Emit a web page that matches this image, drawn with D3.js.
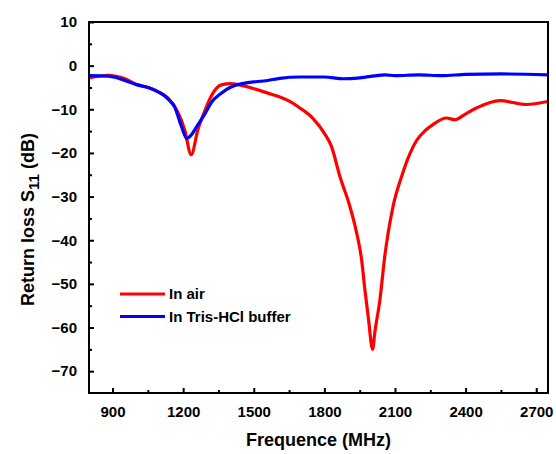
<!DOCTYPE html>
<html>
<head>
<meta charset="utf-8">
<script src="https://cdn.jsdelivr.net/npm/d3@7"></script>
<style>
  body { margin: 0; background: #fff; }
  text { font-family: "Liberation Sans", Arial, sans-serif; font-weight: bold; fill: #000; }
</style>
</head>
<body>
<svg id="chart" width="556" height="454"></svg>
<script>
// frequency (MHz) and S11 (dB)
var airFreq = [800, 881, 953, 1008, 1051, 1093, 1135, 1178, 1206, 1234, 1263, 1291, 1319, 1362, 1403, 1462, 1560, 1611, 1653, 1696, 1750, 1800, 1830, 1866, 1908, 1937, 1958, 1972, 1986, 2005, 2014, 2036, 2057, 2071, 2092, 2128, 2163, 2191, 2230, 2261, 2319, 2354, 2396, 2446, 2545, 2658, 2749];
var airS11  = [-2.8, -2.2, -3.0, -4.5, -5.0, -6.0, -7.4, -10.7, -14.6, -20.4, -14.6, -10.5, -7.0, -4.4, -4.1, -4.7, -6.3, -7.2, -8.2, -9.7, -12, -15.5, -18.5, -25.4, -32.2, -38.3, -44.4, -51.3, -57.4, -65, -61.2, -53.6, -43.5, -38.3, -32.2, -25.4, -20.2, -17.2, -14.8, -13.5, -12, -12.4, -11.2, -9.7, -8, -8.9, -8.2];

var trisFreq = [800, 881, 1008, 1051, 1135, 1164, 1192, 1216, 1234, 1263, 1291, 1319, 1362, 1403, 1462, 1560, 1611, 1696, 1800, 1880, 1950, 2057, 2100, 2200, 2300, 2400, 2550, 2749];
var trisS11  = [-2.3, -2.4, -4.4, -5.0, -7.6, -9.5, -13.8, -16.7, -15.9, -13.5, -11.2, -8.5, -6.3, -4.9, -4.0, -3.4, -2.9, -2.6, -2.6, -3.0, -2.8, -2.1, -2.3, -2.1, -2.3, -2.0, -1.9, -2.1];

var seriesNames = ["In air", "In Tris-HCl buffer"];
var seriesColors = ["#ff0000", "#0000ff"];

var xTicks = [900, 1200, 1500, 1800, 2100, 2400, 2700];
var xMinor = [1050, 1350, 1650, 1950, 2250, 2550];
var yTicks = [10, 0, -10, -20, -30, -40, -50, -60, -70];
var yMinor = [5, -5, -15, -25, -35, -45, -55, -65];

var svg = d3.select("#chart"),
    margin = {top: 22, right: 8, bottom: 61, left: 89},
    width = +svg.attr("width") - margin.left - margin.right,
    height = +svg.attr("height") - margin.top - margin.bottom,
    g = svg.append("g").attr("transform", "translate(" + margin.left + "," + margin.top + ")");

var x = d3.scaleLinear().domain([800, 2750]).range([0, width]);
var y = d3.scaleLinear().domain([-75, 10]).range([height, 0]);

var series = [
  {name: seriesNames[0], color: seriesColors[0], values: airFreq.map(function(f, i) { return {f: f, v: airS11[i]}; })},
  {name: seriesNames[1], color: seriesColors[1], values: trisFreq.map(function(f, i) { return {f: f, v: trisS11[i]}; })}
];

var line = d3.line()
    .curve(d3.curveMonotoneX)
    .x(function(d) { return x(d.f); })
    .y(function(d) { return y(d.v); });

// clip so lines stay in the frame
g.append("clipPath").attr("id", "clip")
  .append("rect").attr("width", width).attr("height", height);

series.forEach(function(s) {
  g.append("path")
    .datum(s.values)
    .attr("clip-path", "url(#clip)")
    .attr("fill", "none")
    .attr("stroke", s.color)
    .attr("stroke-width", 3.2)
    .attr("stroke-linejoin", "round")
    .attr("d", line);
});

// frame
g.append("rect")
  .attr("width", width).attr("height", height)
  .attr("fill", "none").attr("stroke", "#000").attr("stroke-width", 2);

// x axis, ticks pointing inward
var xAxis = g.append("g")
  .attr("transform", "translate(0," + height + ")")
  .call(d3.axisBottom(x).tickValues(xTicks).tickSize(-5).tickPadding(13).tickFormat(d3.format("d")));
xAxis.select(".domain").remove();
xAxis.selectAll(".tick line").attr("stroke-width", 2);
xAxis.selectAll("text").style("font-size", "15px");

var xAxisMinor = g.append("g")
  .attr("transform", "translate(0," + height + ")")
  .call(d3.axisBottom(x).tickValues(xMinor).tickSize(-3).tickFormat(""));
xAxisMinor.select(".domain").remove();
xAxisMinor.selectAll(".tick line").attr("stroke-width", 2);

// y axis
var yAxis = g.append("g")
  .call(d3.axisLeft(y).tickValues(yTicks).tickSize(-5).tickPadding(12));
yAxis.select(".domain").remove();
yAxis.selectAll(".tick line").attr("stroke-width", 2);
yAxis.selectAll("text").style("font-size", "15px");

var yAxisMinor = g.append("g")
  .call(d3.axisLeft(y).tickValues(yMinor).tickSize(-3).tickFormat(""));
yAxisMinor.select(".domain").remove();
yAxisMinor.selectAll(".tick line").attr("stroke-width", 2);

// axis titles
svg.append("text")
  .attr("x", margin.left + width / 2)
  .attr("y", 446)
  .attr("text-anchor", "middle")
  .style("font-size", "18px")
  .text("Frequence (MHz)");

var yTitle = svg.append("text")
  .attr("transform", "translate(34,306) rotate(-90)")
  .attr("text-anchor", "start")
  .style("font-size", "18px");
yTitle.append("tspan").text("Return loss S");
yTitle.append("tspan").attr("dy", 5).style("font-size", "15px").text("11");
yTitle.append("tspan").attr("dy", -5).text(" (dB)");

// legend
var legend = g.selectAll(".legend")
  .data(series)
  .enter().append("g")
    .attr("class", "legend")
    .attr("transform", function(d, i) { return "translate(31," + (272 + i * 22.5) + ")"; });

legend.append("line")
  .attr("x1", 0).attr("x2", 45)
  .attr("stroke", function(d) { return d.color; })
  .attr("stroke-width", 3);

legend.append("text")
  .attr("x", 49)
  .attr("dy", "0.36em")
  .style("font-size", "15px")
  .text(function(d) { return d.name; });
</script>
</body>
</html>
